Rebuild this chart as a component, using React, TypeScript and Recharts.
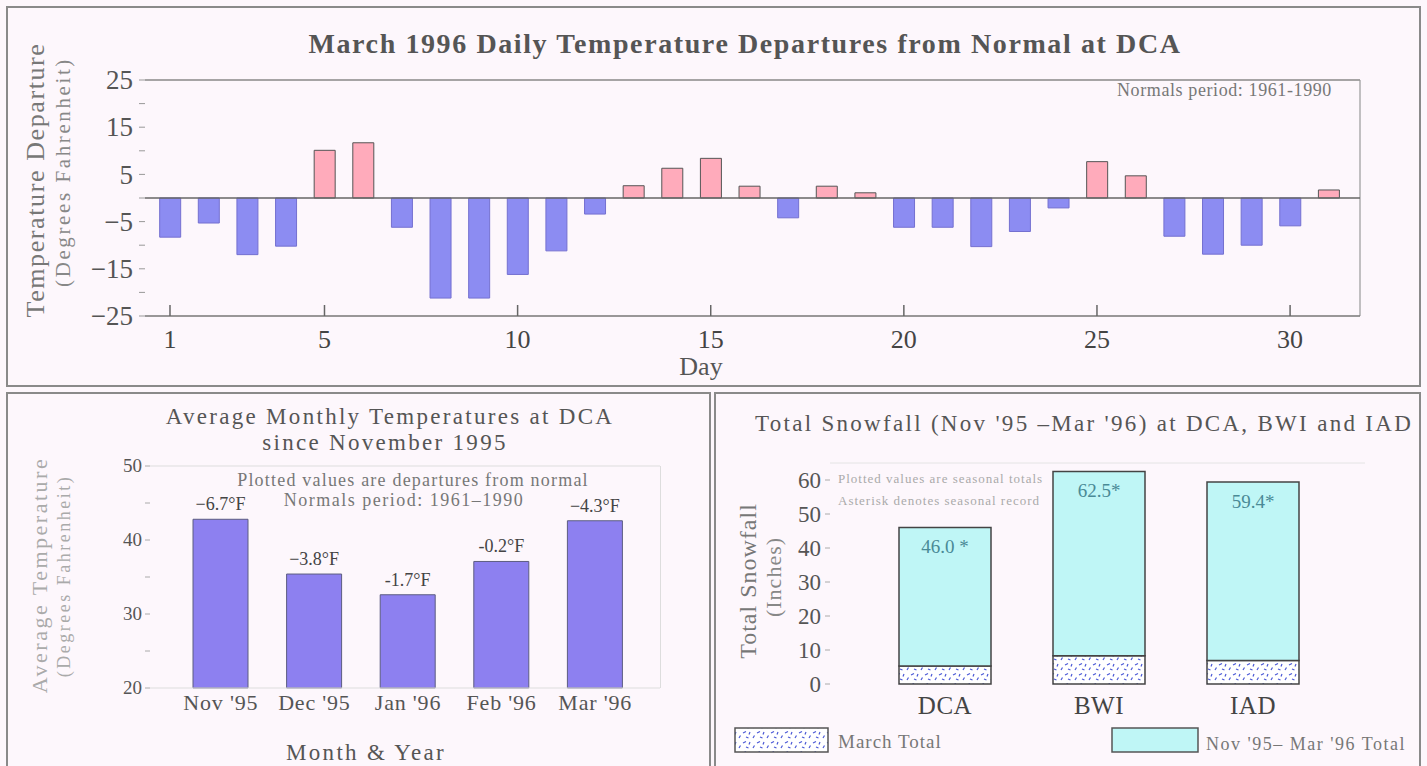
import React from "react";
import { BarChart, Bar, XAxis, YAxis, Cell, ReferenceLine, LabelList } from "recharts";

const FONT = '"Liberation Serif", "DejaVu Serif", serif';

// top panel: March 1996 daily departures from normal (deg F)
const DAYS = [1, 2, 3, 4, 5, 6, 7, 8, 9, 10, 11, 12, 13, 14, 15, 16, 17, 18, 19, 20, 21, 22, 23, 24, 25, 26, 27, 28, 29, 30, 31];
const DEPARTURES = [-8.3, -5.3, -12.0, -10.2, 10.1, 11.7, -6.2, -21.2, -21.2, -16.2, -11.2, -3.4, 2.6, 6.3, 8.4, 2.5, -4.2, 2.5, 1.1, -6.2, -6.2, -10.3, -7.1, -2.1, 7.7, 4.7, -8.1, -11.9, -10.0, -5.9, 1.7];
const DAY_TICKS = [1, 5, 10, 15, 20, 25, 30];
const DEP_TICKS = [-25, -20, -15, -10, -5, 0, 5, 10, 15, 20, 25];
const DEP_LABELED = [-25, -15, -5, 5, 15, 25];

// bottom left: monthly averages
const MONTHS = ["Nov '95", "Dec '95", "Jan '96", "Feb '96", "Mar '96"];
const MONTH_AVG = [42.8, 35.4, 32.6, 37.1, 42.6];
const MONTH_DEP = ["\u22126.7\u00b0F", "\u22123.8\u00b0F", "-1.7\u00b0F", "-0.2\u00b0F", "\u22124.3\u00b0F"];
const AVG_TICKS = [20, 25, 30, 35, 40, 45, 50];
const AVG_LABELED = [20, 30, 40, 50];

// bottom right: snowfall
const STATIONS = ["DCA", "BWI", "IAD"];
const SEASON_TOTAL = [46.0, 62.5, 59.4];
const MARCH_TOTAL = [5.3, 8.3, 6.9];
const SEASON_LABEL = ["46.0 *", "62.5*", "59.4*"];
const SNOW_TICKS = [0, 5, 10, 15, 20, 25, 30, 35, 40, 45, 50, 55, 60];
const SNOW_LABELED = [0, 10, 20, 30, 40, 50, 60];

const depRows = DAYS.map((d, i) => ({ day: d, dep: DEPARTURES[i] }));
const avgRows = MONTHS.map((m, i) => ({ month: m, avg: MONTH_AVG[i], dep: MONTH_DEP[i] }));
const snowRows = STATIONS.map((s, i) => ({
  station: s,
  march: MARCH_TOTAL[i],
  rest: SEASON_TOTAL[i] - MARCH_TOTAL[i],
  label: SEASON_LABEL[i],
}));

const fmt = (v: number) => (v < 0 ? "\u2212" + Math.abs(v) : String(v));

function T({ x, y, size, color = "#555", bold, center, children, spacing = 0 }: any) {
  return (
    <div
      style={{
        position: "absolute",
        left: x,
        top: y,
        transform: center ? "translate(-50%, -50%)" : "translateY(-50%)",
        fontFamily: FONT,
        fontSize: size,
        fontWeight: bold ? "bold" : "normal",
        color,
        whiteSpace: "nowrap",
        letterSpacing: spacing,
        lineHeight: 1,
      }}
    >
      {children}
    </div>
  );
}

function VT({ x, y, size, color = "#777", children, spacing = 0 }: any) {
  return (
    <div
      style={{
        position: "absolute",
        left: x,
        top: y,
        transform: "translate(-50%, -50%) rotate(-90deg)",
        fontFamily: FONT,
        fontSize: size,
        color,
        whiteSpace: "nowrap",
        letterSpacing: spacing,
        lineHeight: 1,
      }}
    >
      {children}
    </div>
  );
}

const makeYTick = (labeled: number[], size: number, color: string) => (props: any) => {
  const { x, y, payload } = props;
  if (!labeled.includes(payload.value)) return <g />;
  return (
    <text x={x} y={y} dy={size * 0.34} textAnchor="end" fontFamily={FONT} fontSize={size} fill={color}>
      {fmt(payload.value)}
    </text>
  );
};

const DayTick = (props: any) => {
  const { x, y, payload } = props;
  return (
    <g>
      <line x1={x} y1={y} x2={x} y2={y - 11} stroke="#666" strokeWidth={1.5} />
      <text x={x} y={y + 32} textAnchor="middle" fontFamily={FONT} fontSize={26} fill="#444">
        {payload.value}
      </text>
    </g>
  );
};

const makeCatTick = (size: number, color: string, dy: number, spacing = 0) => (props: any) => {
  const { x, y, payload } = props;
  return (
    <text x={x} y={y + dy} textAnchor="middle" fontFamily={FONT} fontSize={size} fill={color} letterSpacing={spacing}>
      {payload.value}
    </text>
  );
};

const panel = (left: number, top: number, width: number, height: number): React.CSSProperties => ({
  position: "absolute",
  left,
  top,
  width,
  height,
  border: "2px solid #8a8a8a",
  boxSizing: "border-box",
});

export default function App() {
  return (
    <div style={{ position: "absolute", left: 0, top: 0, width: 1427, height: 766, background: "#fdf7fc", overflow: "hidden" }}>
      <div style={panel(6, 6, 1415, 381)} />
      <div style={panel(6, 392, 705, 380)} />
      <div style={panel(714, 392, 707, 380)} />

      {/* top panel */}
      <div style={{ position: "absolute", left: 0, top: 0 }}>
        <BarChart width={1427} height={390} data={depRows} margin={{ top: 80, right: 67, left: 85, bottom: 34 }}>
          <XAxis
            type="number"
            dataKey="day"
            domain={[0.353, 31.81]}
            allowDataOverflow
            ticks={DAY_TICKS}
            tick={DayTick}
            tickLine={false}
            tickSize={0}
            tickMargin={0}
            height={40}
            axisLine={{ stroke: "#777", strokeWidth: 1.5 }}
          />
          <YAxis
            domain={[-25, 25]}
            ticks={DEP_TICKS}
            tick={makeYTick(DEP_LABELED, 27, "#555")}
            tickLine={{ stroke: "#999" }}
            tickSize={6}
            tickMargin={6}
            axisLine={false}
            width={60}
          />
          <ReferenceLine y={25} stroke="#888" strokeWidth={1.5} />
          <ReferenceLine x={31.81} stroke="#999" strokeWidth={1.2} />
          <Bar dataKey="dep" barSize={21} isAnimationActive={false}>
            {depRows.map((r, i) => (
              <Cell
                key={i}
                fill={r.dep >= 0 ? "#ffabbb" : "#8c8cf2"}
                stroke={r.dep >= 0 ? "#555" : "#7470d0"}
                strokeWidth={1}
              />
            ))}
          </Bar>
          <ReferenceLine y={0} stroke="#666" strokeWidth={1.5} />
        </BarChart>
      </div>
      <T x={745} y={44} size={28} bold center color="#555" spacing={1.6}>
        March 1996 Daily Temperature Departures from Normal at DCA
      </T>
      <T x={1117} y={90} size={18} color="#777" spacing={0.6}>Normals period: 1961-1990</T>
      <T x={701} y={367} size={26} center color="#555">Day</T>
      <VT x={36} y={180} size={26} color="#777" spacing={1.6}>Temperature Departure</VT>
      <VT x={63} y={172} size={21} color="#888" spacing={2.6}>(Degrees Fahrenheit)</VT>

      {/* bottom left panel */}
      <div style={{ position: "absolute", left: 0, top: 392 }}>
        <BarChart width={712} height={374} data={avgRows} margin={{ top: 74, right: 52, left: 110, bottom: 48 }}>
          <XAxis
            dataKey="month"
            tick={makeCatTick(22, "#555", 22, 0.8)}
            tickLine={false}
            tickSize={0}
            tickMargin={0}
            height={30}
            axisLine={{ stroke: "#ddd" }}
            padding={{ left: 24, right: 18 }}
          />
          <YAxis
            domain={[20, 50]}
            ticks={AVG_TICKS}
            tick={makeYTick(AVG_LABELED, 19, "#555")}
            tickLine={{ stroke: "#aaa" }}
            tickSize={5}
            tickMargin={3}
            axisLine={false}
            width={40}
          />
          <ReferenceLine y={50} stroke="#ddd" />
          <Bar dataKey="avg" barSize={55} fill="#8d80f0" stroke="#5c5c80" strokeWidth={1} isAnimationActive={false}>
            <LabelList dataKey="dep" position="top" offset={9} style={{ fontFamily: FONT, fontSize: 18, fill: "#444" }} />
          </Bar>
        </BarChart>
      </div>
      <div style={{ position: "absolute", left: 660, top: 466, width: 1, height: 222, background: "#ddd" }} />
      <T x={390} y={416} size={23} center color="#555" spacing={2.3}>Average Monthly Temperatures at DCA</T>
      <T x={385} y={442} size={23} center color="#555" spacing={2.3}>since November 1995</T>
      <T x={413} y={480} size={18} center color="#777" spacing={1.2}>Plotted values are departures from normal</T>
      <T x={404} y={500} size={18} center color="#777" spacing={1.5}>Normals period: 1961{"\u2013"}1990</T>
      <T x={366} y={752} size={23} center color="#555" spacing={2.3}>Month &amp; Year</T>
      <VT x={40} y={575} size={22} color="#aaa" spacing={2.5}>Average Temperature</VT>
      <VT x={64} y={576} size={18} color="#aaa" spacing={2.5}>(Degrees Fahrenheit)</VT>

      {/* bottom right panel */}
      <div style={{ position: "absolute", left: 714, top: 392 }}>
        <BarChart width={713} height={374} data={snowRows} margin={{ top: 71, right: 62, left: 76, bottom: 42 }}>
          <defs>
            <pattern id="snowHatch" width="14" height="10" patternUnits="userSpaceOnUse">
              <rect width="14" height="10" fill="#ffffff" />
              <path d="M1 3 l3 -1.5 M8 2 l-1 2.5 M4 7 l2.5 1 M11 8 l1.5 -2.5" stroke="#4a58d6" strokeWidth={1.2} />
            </pattern>
          </defs>
          <XAxis
            dataKey="station"
            tick={makeCatTick(25, "#444", 30, 0.5)}
            tickLine={false}
            tickSize={0}
            tickMargin={0}
            height={40}
            axisLine={false}
            padding={{ left: 38, right: 35 }}
          />
          <YAxis
            domain={[0, 65]}
            ticks={SNOW_TICKS}
            tick={makeYTick(SNOW_LABELED, 23, "#555")}
            tickLine={{ stroke: "#aaa" }}
            tickSize={5}
            tickMargin={4}
            axisLine={false}
            width={40}
          />
          <ReferenceLine y={65} stroke="#e4e4e4" />
          <Bar dataKey="march" stackId="s" barSize={92} fill="url(#snowHatch)" stroke="#444" strokeWidth={1.5} isAnimationActive={false} />
          <Bar dataKey="rest" stackId="s" barSize={92} fill="#bff6f6" stroke="#444" strokeWidth={1.5} isAnimationActive={false}>
            <LabelList dataKey="label" position="insideTop" offset={12} style={{ fontFamily: FONT, fontSize: 19, fill: "#4a8a96" }} />
          </Bar>
        </BarChart>
      </div>
      <T x={1084} y={423} size={23} center color="#555" spacing={2.3}>Total Snowfall (Nov '95 {"\u2013"}Mar '96) at DCA, BWI and IAD</T>
      <T x={838} y={478} size={13} color="#aaa" spacing={1}>Plotted values are seasonal totals</T>
      <T x={838} y={500} size={13} color="#aaa" spacing={1}>Asterisk denotes seasonal record</T>
      <VT x={748} y={581} size={24} color="#777" spacing={1}>Total Snowfall</VT>
      <VT x={774} y={577} size={22} color="#888" spacing={1}>(Inches)</VT>
      <svg style={{ position: "absolute", left: 0, top: 0 }} width={1427} height={766}>
        <defs>
          <pattern id="legHatch" width="14" height="10" patternUnits="userSpaceOnUse">
            <rect width="14" height="10" fill="#ffffff" />
            <path d="M1 3 l3 -1.5 M8 2 l-1 2.5 M4 7 l2.5 1 M11 8 l1.5 -2.5" stroke="#4a58d6" strokeWidth={1.2} />
          </pattern>
        </defs>
        <rect x={735} y={728} width={93} height={24} fill="url(#legHatch)" stroke="#555" strokeWidth={1.5} />
        <rect x={1112} y={728} width={86} height={24} fill="#bff6f6" stroke="#555" strokeWidth={1.5} />
      </svg>
      <T x={838} y={741} size={19} color="#777" spacing={1}>March Total</T>
      <T x={1206} y={744} size={18} color="#777" spacing={1.5}>Nov '95{"\u2013"} Mar '96 Total</T>
    </div>
  );
}
